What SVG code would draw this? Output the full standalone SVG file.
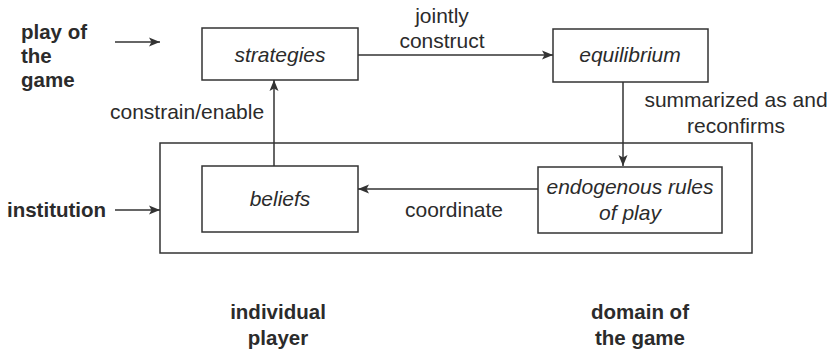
<svg xmlns="http://www.w3.org/2000/svg" width="837" height="350" viewBox="0 0 837 350">
<style>
text{font-family:"Liberation Sans",Arial,sans-serif;font-size:21px;fill:#2b2b2b}
.b{font-weight:bold;font-size:20.5px}
.i{font-style:italic}
.m{text-anchor:middle}
.box{fill:none;stroke:#333;stroke-width:1.5}
.ln{fill:none;stroke:#333;stroke-width:1.5}
</style>
<defs>
<marker id="ah" markerWidth="12" markerHeight="10" refX="11" refY="5" orient="auto" markerUnits="userSpaceOnUse">
<path d="M0,0.5 L11,5 L0,9.5 L2.5,5 Z" fill="#333"/>
</marker>
</defs>
<rect width="837" height="350" fill="#fff"/>
<g id="institution-frame"><rect class="box" x="160" y="143" width="592" height="110"/></g>
<g id="strategies"><rect class="box" x="202" y="28" width="156" height="52"/><text class="i m" x="280" y="62">strategies</text></g>
<g id="equilibrium"><rect class="box" x="553" y="29" width="155" height="53"/><text class="i m" x="630" y="62">equilibrium</text></g>
<g id="beliefs"><rect class="box" x="202" y="166" width="156" height="66"/><text class="i m" x="280" y="206">beliefs</text></g>
<g id="rules"><rect class="box" x="538" y="167" width="184" height="66"/><text class="i m" x="630" y="194">endogenous rules</text><text class="i m" x="630" y="220">of play</text></g>
<g id="labels">
<text class="b" x="21" y="39">play of</text>
<text class="b" x="21" y="63">the</text>
<text class="b" x="21" y="87">game</text>
<text class="b" x="7" y="217">institution</text>
<text class="b m" x="278" y="319">individual</text>
<text class="b m" x="278" y="345">player</text>
<text class="b m" x="640" y="319">domain of</text>
<text class="b m" x="640" y="345">the game</text>
</g>
<g id="connectors">
<line class="ln" x1="115" y1="42" x2="160" y2="42" marker-end="url(#ah)"/>
<line class="ln" x1="115" y1="210" x2="160" y2="210" marker-end="url(#ah)"/>
<line class="ln" x1="358" y1="55" x2="553" y2="55" marker-end="url(#ah)"/>
<text class="m" x="442" y="23">jointly</text>
<text class="m" x="442" y="48">construct</text>
<line class="ln" x1="623" y1="82" x2="623" y2="166" marker-end="url(#ah)"/>
<text class="m" x="736" y="107">summarized as and</text>
<text class="m" x="736" y="133">reconfirms</text>
<line class="ln" x1="538" y1="189" x2="358" y2="189" marker-end="url(#ah)"/>
<text class="m" x="454" y="217">coordinate</text>
<line class="ln" x1="274" y1="166" x2="274" y2="80" marker-end="url(#ah)"/>
<text x="110" y="119">constrain/enable</text>
</g>
</svg>
